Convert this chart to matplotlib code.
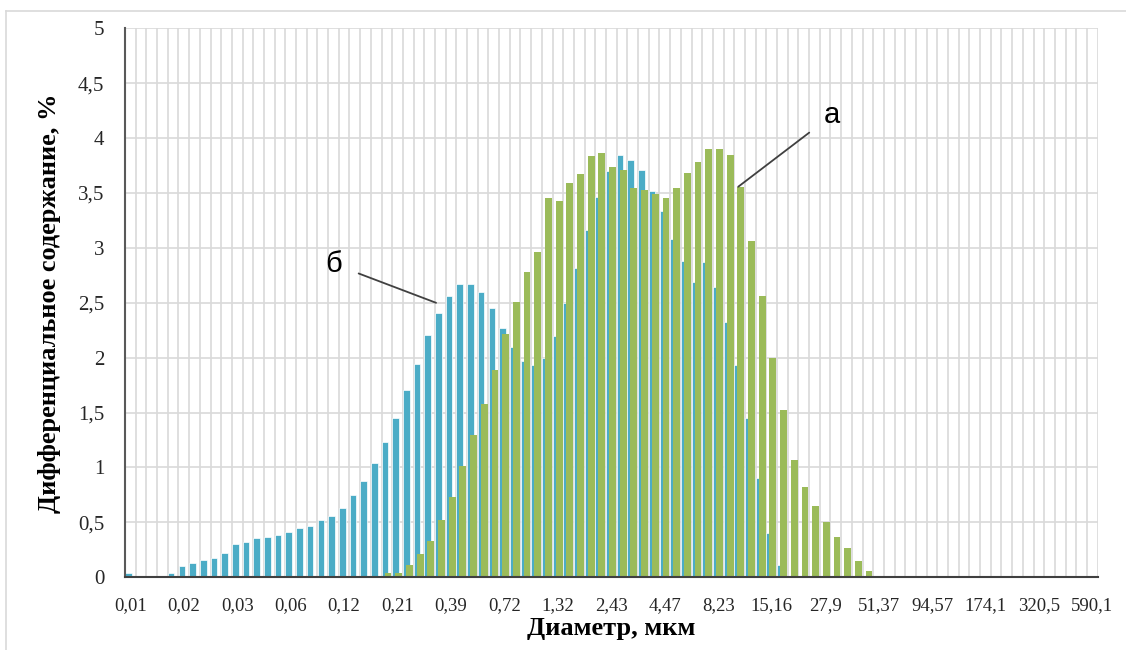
import matplotlib
matplotlib.use("Agg")
import matplotlib.pyplot as plt
from matplotlib.lines import Line2D
import numpy as np

# x-axis tick labels (every 5th size class shown)
diam_labels = ["0,01", "0,02", "0,03", "0,06", "0,12", "0,21", "0,39", "0,72", "1,32",
               "2,43", "4,47", "8,23", "15,16", "27,9", "51,37", "94,57", "174,1",
               "320,5", "590,1"]

# series б (blue), 91 size classes
series_b = [0.04, 0, 0, 0, 0.04, 0.10, 0.13, 0.155, 0.18, 0.22,
            0.30, 0.32, 0.36, 0.37, 0.385, 0.41, 0.45, 0.465, 0.52, 0.56,
            0.63, 0.75, 0.88, 1.045, 1.23, 1.455, 1.71, 1.945, 2.205, 2.41,
            2.56, 2.67, 2.67, 2.60, 2.45, 2.27, 2.10, 1.97, 1.93, 2.00,
            2.20, 2.50, 2.82, 3.165, 3.465, 3.70, 3.85, 3.805, 3.71, 3.52,
            3.34, 3.08, 2.885, 2.685, 2.875, 2.64, 2.325, 1.93, 1.45, 0.905,
            0.40, 0.11] + [0] * 29

# series а (green)
series_a = [0] * 24 + [0.04, 0.04, 0.11, 0.21, 0.33, 0.52,
            0.73, 1.015, 1.30, 1.575, 1.89, 2.22, 2.505, 2.78, 2.96, 3.45,
            3.43, 3.59, 3.675, 3.835, 3.86, 3.74, 3.71, 3.545, 3.53, 3.49,
            3.45, 3.545, 3.68, 3.78, 3.90, 3.90, 3.85, 3.555, 3.067, 2.56,
            2.00, 1.52, 1.07, 0.825, 0.65, 0.505, 0.37, 0.265, 0.15, 0.06] + [0] * 21

y_ticks = [0, 0.5, 1, 1.5, 2, 2.5, 3, 3.5, 4, 4.5, 5]

BLUE = "#4BACC6"
GREEN = "#9BBB59"
GRID = "#D9D9D9"
SERIF = "Liberation Serif"

W, H = 1126, 650
fig = plt.figure(figsize=(W / 100, H / 100), dpi=100)

# chart border (top and left edges visible)
fig.add_artist(Line2D([6 / W, 1], [1 - 11 / H] * 2, transform=fig.transFigure, color=GRID, lw=1.2))
fig.add_artist(Line2D([6 / W] * 2, [0, 1 - 11 / H], transform=fig.transFigure, color=GRID, lw=1.2))

left, right, top, bottom = 125, 1097.7, 28.3, 577.3
ax = fig.add_axes([left / W, 1 - bottom / H, (right - left) / W, (bottom - top) / H])

n = len(series_b)
x = np.arange(n)
vb = np.array(series_b, dtype=float)
va = np.array(series_a, dtype=float)
nz_b = vb > 0
nz_a = va > 0
ax.bar(x[nz_b] - 0.18, vb[nz_b], width=0.62, color=BLUE, edgecolor="white", linewidth=0.5, zorder=3)
ax.bar(x[nz_a] + 0.11, va[nz_a], width=0.64, color=GREEN, linewidth=0, zorder=4)

ax.set_xlim(-0.5, n - 0.5)
ax.set_ylim(0, 5)

ax.set_xticks(np.arange(0, n, 5))
ax.set_xticklabels(diam_labels, fontfamily=SERIF, fontsize=13.5, color="#262626")
ax.set_xticks(np.arange(-0.5, n, 1), minor=True)
ax.set_yticks(y_ticks)
ax.set_yticklabels([f"{v:g}".replace(".", ",") for v in y_ticks], fontfamily=SERIF,
                   fontsize=15, color="#262626")
ax.tick_params(axis="both", which="both", length=0)
ax.tick_params(axis="x", pad=14)
ax.tick_params(axis="y", pad=15)

ax.grid(True, axis="x", which="minor", color=GRID, lw=1.2, zorder=0)
ax.grid(True, axis="y", which="major", color=GRID, lw=1.2, zorder=0)

for s in ["top", "right"]:
    ax.spines[s].set_visible(False)
ax.spines["left"].set_color("#595959")
ax.spines["left"].set_linewidth(1.5)
ax.spines["bottom"].set_color("#404040")
ax.spines["bottom"].set_linewidth(1.5)
for s in ["left", "bottom"]:
    ax.spines[s].set_zorder(10)

ax.set_xlabel("Диаметр, мкм", fontfamily=SERIF, fontweight="bold", fontsize=19, labelpad=2)
ax.set_ylabel("Дифференциальное содержание, %", fontfamily=SERIF, fontweight="bold",
              fontsize=19, labelpad=12)

# curve labels
ax.annotate("б", xy=(28.6, 2.50), xytext=(18.98, 2.855), fontsize=21, family="Liberation Sans",
            ha="center", va="center",
            arrowprops=dict(arrowstyle="-", color="#404040", lw=1.3, shrinkA=11, shrinkB=0),
            zorder=6)
ax.annotate("а", xy=(56.87, 3.557), xytext=(65.67, 4.21), fontsize=21, family="Liberation Sans",
            ha="center", va="center",
            arrowprops=dict(arrowstyle="-", color="#404040", lw=1.3, shrinkA=11, shrinkB=0),
            zorder=6)

fig.savefig("out.png", dpi=100)
